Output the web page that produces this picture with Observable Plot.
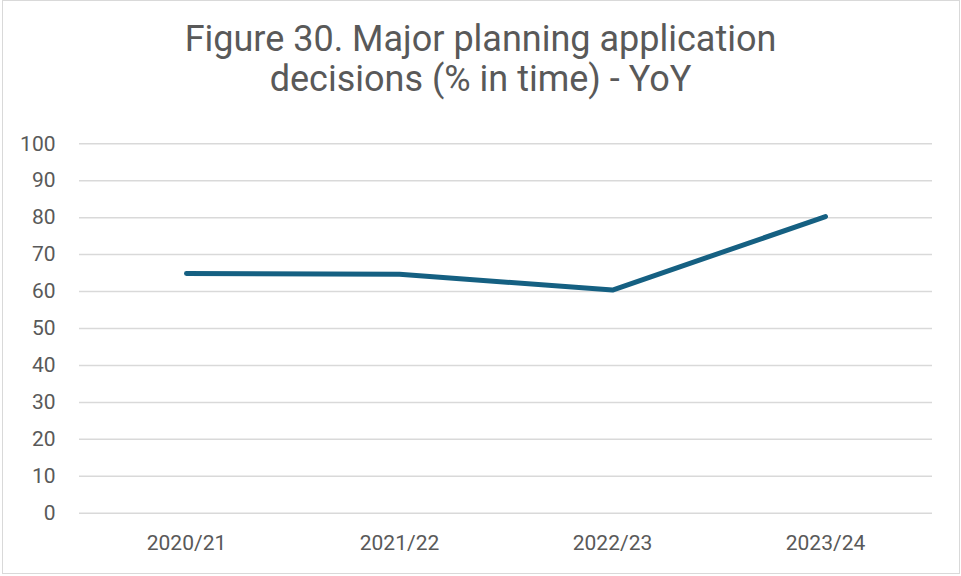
<!DOCTYPE html>
<html>
<head>
<meta charset="utf-8">
<script src="https://cdn.jsdelivr.net/npm/d3@7"></script>
<script src="https://cdn.jsdelivr.net/npm/@observablehq/plot@0.6"></script>
<style>
  html, body { margin: 0; padding: 0; background: #fff; }
  #frame {
    position: absolute; left: 2px; top: 0px; width: 956px; height: 572px;
    border: 1.5px solid #d9d9d9; background: #fff; overflow: hidden;
  }
  #title {
    position: absolute; left: 0; top: 0; width: 961px; height: 120px;
    font-family: Roboto, "Noto Sans", sans-serif; color: #595959;
    font-size: 36px; text-align: center;
  }
  #title div { position: absolute; left: 0; width: 961px; line-height: 1; }
  #chart { position: absolute; left: 0; top: 120px; }
</style>
</head>
<body>
<div id="frame"></div>
<div id="title">
  <div id="t1" style="top:21px">Figure 30. Major planning application</div>
  <div id="t2" style="top:61px">decisions (% in time) - YoY</div>
</div>
<div id="chart"></div>
<script>
const categories = ["2020/21", "2021/22", "2022/23", "2023/24"];
const values = [64.9, 64.7, 60.4, 80.3];
const yTicks = [0, 10, 20, 30, 40, 50, 60, 70, 80, 90, 100];

const data = categories.map((c, i) => ({year: c, value: values[i]}));

const plot = Plot.plot({
  width: 961,
  height: 456,
  marginTop: 23.3,
  marginBottom: 63.3,
  marginLeft: 79,
  marginRight: 29,
  style: {fontFamily: "Roboto, 'Noto Sans', sans-serif", fontSize: "21px", color: "#595959", background: "transparent", overflow: "visible"},
  x: {type: "point", domain: categories, padding: 0.5, label: null},
  y: {domain: [0, 100], label: null},
  marks: [
    Plot.gridY(yTicks, {stroke: "#d9d9d9", strokeOpacity: 1, strokeWidth: 1.5}),
    Plot.axisY(yTicks, {tickSize: 0, tickPadding: 24, fill: "#595959", fontSize: 21, label: null}),
    Plot.axisX(categories, {tickSize: 0, tickPadding: 22, fill: "#595959", fontSize: 21, label: null}),
    Plot.line(data, {x: "year", y: "value", stroke: "#156082", strokeWidth: 5, strokeLinecap: "round", strokeLinejoin: "round"})
  ]
});
document.getElementById("chart").appendChild(plot);
</script>
</body>
</html>
